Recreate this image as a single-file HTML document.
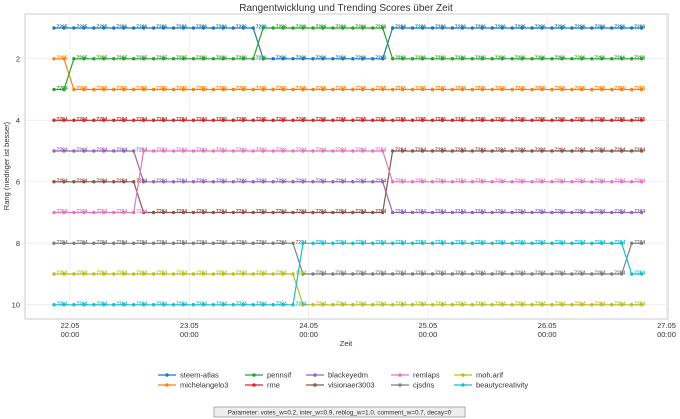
<!DOCTYPE html>
<html><head><meta charset="utf-8"><style>
html,body{margin:0;padding:0;background:#fff;}
svg{display:block;font-family:"Liberation Sans","DejaVu Sans",sans-serif;}
</style></head><body>
<svg id="chart" width="680" height="419" viewBox="0 0 680 419" xmlns="http://www.w3.org/2000/svg">
<text x="346" y="11" text-anchor="middle" font-size="10" fill="#333">Rangentwicklung und Trending Scores über Zeit</text>
<rect x="25" y="14" width="643" height="305" fill="none" stroke="#ccc" stroke-width="1"/>
<g id="grid"></g><g id="axes"></g><g id="series"></g>
<text transform="translate(9,166) rotate(-90)" text-anchor="middle" font-size="7.5" fill="#333">Rang (niedriger ist besser)</text>
<text x="346" y="346" text-anchor="middle" font-size="7.5" fill="#333">Zeit</text>
<g id="legend"></g>
<rect x="214" y="407" width="251" height="10" fill="#eee" stroke="#999" stroke-width="0.8"/>
<text x="339.5" y="414.5" text-anchor="middle" font-size="6.3" fill="#333">Parameter: votes_w=0.2, inter_w=0.9, reblog_w=1.0, comment_w=0.7, decay=0</text>
</svg>
<script>
const names = ["steem-atlas","michelangelo3","pennsif","rme","blackeyedm","visionaer3003","remlaps","cjsdns","moh.arif","beautycreativity"];
const colors = ["#1f77b4","#ff7f0e","#2ca02c","#d62728","#9467bd","#8c564b","#e377c2","#7f7f7f","#bcbd22","#17becf"];
const yTicks = [2,4,6,8,10];
const xTickLabels = ["22.05","23.05","24.05","25.05","26.05","27.05"];
const xTickDays = [0,1,2,3,4,5];
const N = 60;
// rank segments: [rank, fromIndex] per series
const rankSegments = [
 [[1,0],[2,21],[1,34]],
 [[2,0],[3,2]],
 [[3,0],[2,2],[1,21],[2,34]],
 [[4,0]],
 [[5,0],[6,9],[7,34]],
 [[6,0],[7,9],[5,34]],
 [[7,0],[5,9],[6,34]],
 [[8,0],[9,25],[8,58]],
 [[9,0],[10,25]],
 [[10,0],[8,25],[9,58]]
];
// score label segments: [value, fromIndex]
const scoreSegments = [
 [[7285,0],[7286,6]],
 [[7285,0]],
 [[7284,0],[7285,2],[7286,14]],
 [[7284,0],[7285,16]],
 [[7284,0]],[[7284,0]],[[7284,0]],[[7284,0]],[[7284,0]],[[7284,0]]
];
function expand(segs){const out=[];for(let i=0;i<N;i++){let v=segs[0][0];for(const s of segs){if(i>=s[1])v=s[0];}out.push(v);}return out;}
const ranks = rankSegments.map(expand);
const scores = scoreSegments.map(expand);

const NS="http://www.w3.org/2000/svg";
function el(t,a,p){const e=document.createElementNS(NS,t);for(const k in a)e.setAttribute(k,a[k]);p.appendChild(e);return e;}
const yScale = r => 28 + (r-1)*30.75;
const xDay = d => 70 + d*119.3;
const xIdx = i => 54 + i*9.96;

const grid=document.getElementById('grid'), axes=document.getElementById('axes');
yTicks.forEach(t=>{
 const g=el('line',{x1:25,x2:668,y1:yScale(t),y2:yScale(t),stroke:'#ebebeb','stroke-width':0.8},grid);
 
 
 const tx=el('text',{x:20,y:yScale(t)+2.5,'text-anchor':'end','font-size':7.5,fill:'#333'},axes);
 tx.textContent=t;
 
 
});
xTickDays.forEach((d,k)=>{
 const g=el('line',{x1:xDay(d),x2:xDay(d),y1:14,y2:319,stroke:'#ebebeb','stroke-width':0.8},grid);
 
 
 const tx=el('text',{x:xDay(d),y:328,'text-anchor':'middle','font-size':7.5,fill:'#333'},axes);
 tx.textContent=xTickLabels[k];
 
 
 const tx2=el('text',{x:xDay(d),y:337,'text-anchor':'middle','font-size':7.5,fill:'#333'},axes);
 tx2.textContent='00:00';
 
 
});
const sg=document.getElementById('series');
names.forEach((n,s)=>{
 const g=el('g',{},sg);
 
 
 const pts=ranks[s].map((r,i)=>xIdx(i).toFixed(1)+','+yScale(r).toFixed(1)).join(' ');
 const pl=el('polyline',{points:pts,fill:'none',stroke:colors[s],'stroke-width':1.2},g);
 
 
 ranks[s].forEach((r,i)=>{
  const c=el('circle',{cx:xIdx(i),cy:yScale(r),r:1.7,fill:colors[s]},g);
  
  
  if(i%2===0){
   const t=el('text',{x:xIdx(i)+2.5,y:yScale(r)+0.5,'font-size':5,'font-weight':'bold',fill:colors[s]},g);
   t.textContent=scores[s][i];
   
   
  }
 });
});
const lg=document.getElementById('legend');
const colX=[180,267,328,413,476];
names.forEach((n,s)=>{
 const col=Math.floor(s/2), row=s%2;
 const x=colX[col], y=375+row*10;
 const g=el('g',{},lg);
 
 
 el('line',{x1:x-22,x2:x-4,y1:y,y2:y,stroke:colors[s],'stroke-width':1.2},g);
 el('circle',{cx:x-13,cy:y,r:1.8,fill:colors[s]},g);
 const t=el('text',{x:x,y:y+2.6,'font-size':7.5,fill:'#333'},g);
 t.textContent=n;
});
</script>
</body></html>
